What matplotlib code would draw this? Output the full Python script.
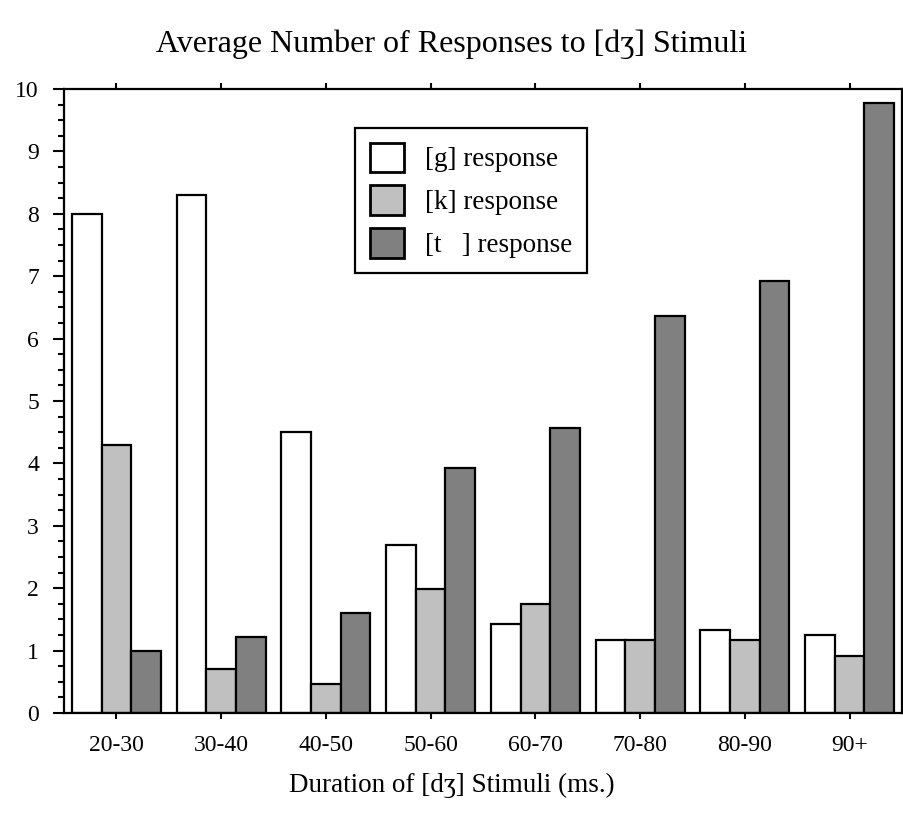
import matplotlib.pyplot as plt
import numpy as np

plt.rcParams['font.family'] = ['Liberation Serif', 'DejaVu Serif']

categories = ['20-30', '30-40', '40-50', '50-60', '60-70', '70-80', '80-90', '90+']
g_resp = [8.0, 8.3, 4.5, 2.7, 1.43, 1.17, 1.33, 1.25]
k_resp = [4.3, 0.7, 0.46, 1.98, 1.75, 1.17, 1.17, 0.92]
t_resp = [1.0, 1.21, 1.6, 3.92, 4.57, 6.37, 6.93, 9.77]
series_labels = ['[g] response', '[k] response', '[t   ] response']

fig = plt.figure(figsize=(9.04, 8.13), dpi=100)
ax = fig.add_axes([0.0708, 0.123, 0.927, 0.7675])

x = np.arange(len(categories))
w = 0.283
colors = ['white', '#c0c0c0', '#808080']
for i, (vals, col, lab) in enumerate(zip([g_resp, k_resp, t_resp], colors, series_labels)):
    ax.bar(x + (i - 1) * w, vals, w, color=col, edgecolor='black', linewidth=1.6, label=lab)

ax.set_xlim(-0.5, 7.5)
ax.set_ylim(0, 10)
ax.set_xticks(x)
ax.set_xticklabels(categories)
ax.set_yticks(range(11))
ax.set_yticks(np.arange(0, 10.01, 0.25), minor=True)
ax.tick_params(axis='both', labelsize=17, width=1.5, direction='out')
ax.tick_params(axis='x', length=4.5, pad=11, top=True)
ax.tick_params(axis='y', which='major', length=8, pad=10, right=True)
ax.tick_params(axis='y', which='minor', length=4, width=1.5, right=True)
for s in ax.spines.values():
    s.set_linewidth(1.6)

fig.text(0.5, 0.946, 'Average Number of Responses to [dʒ] Stimuli', fontsize=23,
         ha='center', va='center')
fig.text(0.5, 0.034, 'Duration of [dʒ] Stimuli (ms.)', fontsize=19.5,
         ha='center', va='center')

leg = ax.legend(loc='upper left', bbox_to_anchor=(0.347, 0.938), fontsize=19.5,
                frameon=True, fancybox=False, edgecolor='black', framealpha=1,
                handlelength=1.25, handleheight=1.3, handletextpad=0.8,
                labelspacing=0.48, borderpad=0.55, borderaxespad=0)
leg.get_frame().set_linewidth(1.6)
for h in leg.legend_handles:
    h.set_linewidth(2)

fig.savefig('out.png', dpi=100)
